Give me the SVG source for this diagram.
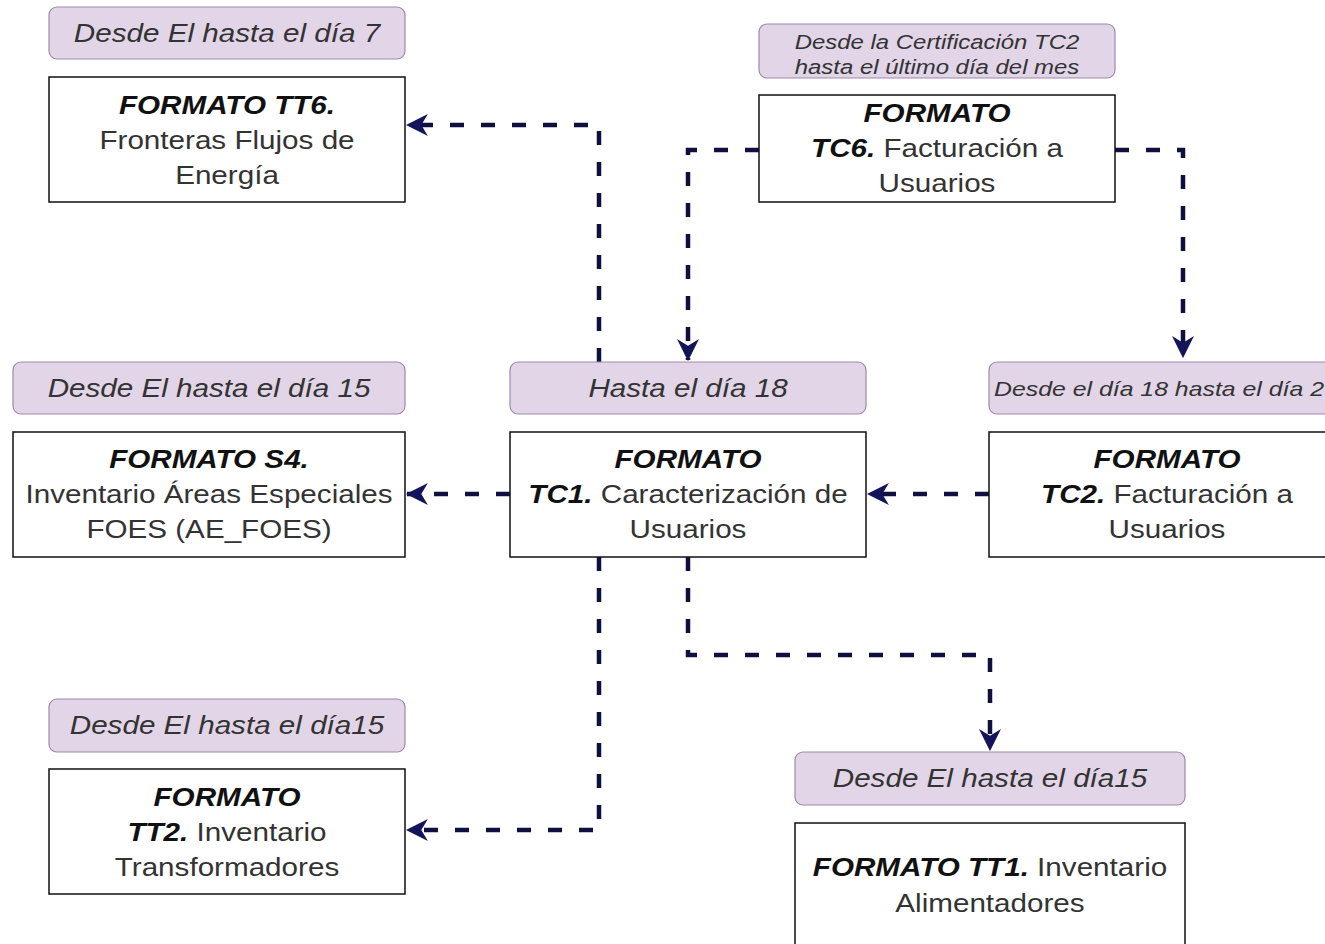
<svg xmlns="http://www.w3.org/2000/svg" width="1325" height="944" viewBox="0 0 1325 944">
<defs>
<style>
.box{fill:#ffffff;stroke:#111111;stroke-width:1.5}
.lbl{fill:#e1d5e7;stroke:#9d8aa8;stroke-width:1.2}
.t{font-family:"Liberation Sans",Arial,sans-serif;font-size:26px;fill:#333333}
.ti{font-family:"Liberation Sans",Arial,sans-serif;font-size:26px;font-style:italic;fill:#333333}
.ts{font-family:"Liberation Sans",Arial,sans-serif;font-size:21px;font-style:italic;fill:#333333}
.b{font-weight:bold;font-style:italic;fill:#111111}
.edge{fill:none;stroke:#101040;stroke-width:4.5;stroke-dasharray:14 17}
</style>
<marker id="arr" viewBox="0 0 20 20" refX="19" refY="10" markerWidth="22" markerHeight="22" markerUnits="userSpaceOnUse" orient="auto">
<path d="M0,0 L20,10 L0,20 L6,10 Z" fill="#14145a"/>
</marker>
</defs>
<rect width="1325" height="944" fill="#ffffff"/>

<g id="connectors">
<path class="edge" d="M599,362 V125 H407" marker-end="url(#arr)"/>
<path class="edge" d="M759,150 H688 V360" marker-end="url(#arr)"/>
<path class="edge" d="M1115,150 H1183 V357" marker-end="url(#arr)"/>
<path class="edge" d="M989,494 H868" marker-end="url(#arr)"/>
<path class="edge" d="M510,494 H407" marker-end="url(#arr)"/>
<path class="edge" d="M599,557 V830 H407" marker-end="url(#arr)"/>
<path class="edge" d="M688,557 V655 H990 V750" marker-end="url(#arr)"/>
</g>

<g id="tt6">
<rect class="lbl" x="49" y="7" width="356" height="52" rx="8"/>
<text class="ti" text-anchor="middle" transform="translate(227 0) scale(1.14 1)"><tspan x="0" y="42">Desde El hasta el día 7</tspan></text>
<rect class="box" x="49" y="77" width="356" height="125"/>
<text class="t" text-anchor="middle" transform="translate(227 0) scale(1.14 1)"><tspan x="0" y="114" class="b">FORMATO TT6.</tspan><tspan x="0" y="149">Fronteras Flujos de</tspan><tspan x="0" y="184">Energía</tspan></text>
</g>

<g id="tc6">
<rect class="lbl" x="759" y="24" width="356" height="54" rx="8"/>
<text class="ts" text-anchor="middle" transform="translate(937 0) scale(1.14 1)"><tspan x="0" y="49">Desde la Certificación TC2</tspan><tspan x="0" y="74">hasta el último día del mes</tspan></text>
<rect class="box" x="759" y="95" width="356" height="107"/>
<text class="t" text-anchor="middle" transform="translate(937 0) scale(1.14 1)"><tspan x="0" y="122" class="b">FORMATO</tspan><tspan x="0" y="157"><tspan class="b">TC6.</tspan> Facturación a</tspan><tspan x="0" y="192">Usuarios</tspan></text>
</g>

<g id="s4">
<rect class="lbl" x="13" y="362" width="392" height="52" rx="8"/>
<text class="ti" text-anchor="middle" transform="translate(209 0) scale(1.14 1)"><tspan x="0" y="397">Desde El hasta el día 15</tspan></text>
<rect class="box" x="13" y="432" width="392" height="125"/>
<text class="t" text-anchor="middle" transform="translate(209 0) scale(1.14 1)"><tspan x="0" y="468" class="b">FORMATO S4.</tspan><tspan x="0" y="503">Inventario Áreas Especiales</tspan><tspan x="0" y="538">FOES (AE_FOES)</tspan></text>
</g>

<g id="tc1">
<rect class="lbl" x="510" y="362" width="356" height="52" rx="8"/>
<text class="ti" text-anchor="middle" transform="translate(688 0) scale(1.14 1)"><tspan x="0" y="397">Hasta el día 18</tspan></text>
<rect class="box" x="510" y="432" width="356" height="125"/>
<text class="t" text-anchor="middle" transform="translate(688 0) scale(1.14 1)"><tspan x="0" y="468" class="b">FORMATO</tspan><tspan x="0" y="503"><tspan class="b">TC1.</tspan> Caracterización de</tspan><tspan x="0" y="538">Usuarios</tspan></text>
</g>

<g id="tc2">
<rect class="lbl" x="989" y="362" width="356" height="52" rx="8"/>
<text class="ts" x="994" y="396" textLength="330" lengthAdjust="spacingAndGlyphs">Desde el día 18 hasta el día 2</text>
<rect class="box" x="989" y="432" width="356" height="125"/>
<text class="t" text-anchor="middle" transform="translate(1167 0) scale(1.14 1)"><tspan x="0" y="468" class="b">FORMATO</tspan><tspan x="0" y="503"><tspan class="b">TC2.</tspan> Facturación a</tspan><tspan x="0" y="538">Usuarios</tspan></text>
</g>

<g id="tt2">
<rect class="lbl" x="49" y="699" width="356" height="53" rx="8"/>
<text class="ti" text-anchor="middle" transform="translate(227 0) scale(1.14 1)"><tspan x="0" y="734">Desde El hasta el día15</tspan></text>
<rect class="box" x="49" y="769" width="356" height="125"/>
<text class="t" text-anchor="middle" transform="translate(227 0) scale(1.14 1)"><tspan x="0" y="806" class="b">FORMATO</tspan><tspan x="0" y="841"><tspan class="b">TT2.</tspan> Inventario</tspan><tspan x="0" y="876">Transformadores</tspan></text>
</g>

<g id="tt1">
<rect class="lbl" x="795" y="752" width="390" height="53" rx="8"/>
<text class="ti" text-anchor="middle" transform="translate(990 0) scale(1.14 1)"><tspan x="0" y="787">Desde El hasta el día15</tspan></text>
<rect class="box" x="795" y="823" width="390" height="135"/>
<text class="t" text-anchor="middle" transform="translate(990 0) scale(1.14 1)"><tspan x="0" y="876"><tspan class="b">FORMATO TT1.</tspan> Inventario</tspan><tspan x="0" y="912">Alimentadores</tspan></text>
</g>
</svg>
